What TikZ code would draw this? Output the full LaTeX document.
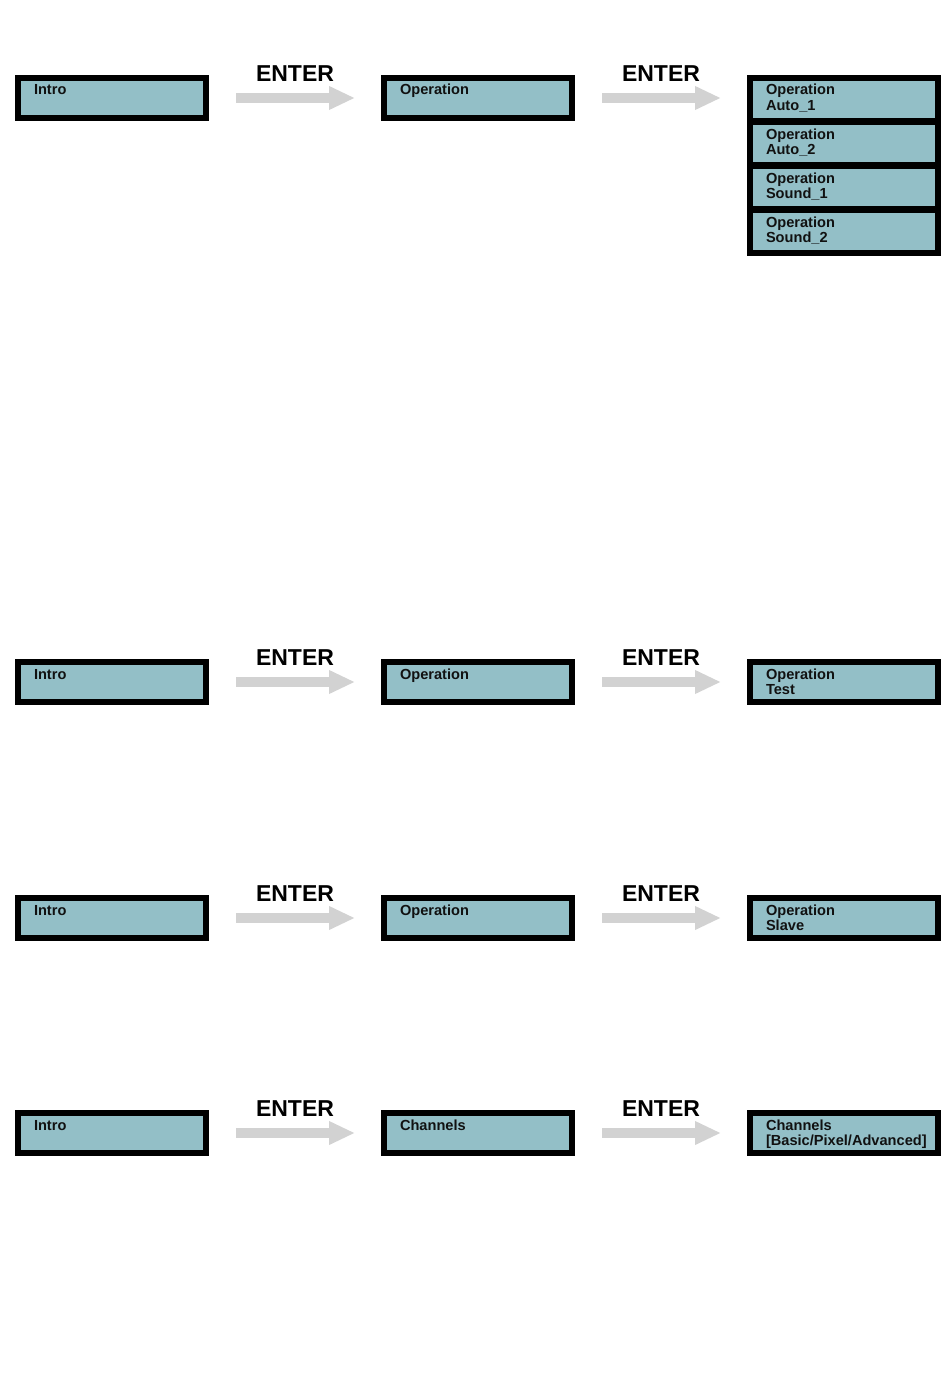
\documentclass[tikz,border=0pt]{standalone}
\usepackage{fontspec}
\setsansfont{Liberation Sans}
\usetikzlibrary{arrows.meta,positioning}
\definecolor{lcdblue}{HTML}{93BFC7}
\definecolor{keygray}{HTML}{D2D2D2}
\definecolor{ink}{HTML}{111111}

\begin{document}
\begin{tikzpicture}[
    x=1pt, y=-1pt,
    font=\sffamily\bfseries,
    screen/.style={
        draw=black,
        fill=lcdblue,
        line width=6pt,
        minimum width=188pt,
        text width=156pt,
        inner xsep=16pt,
        inner ysep=6.5pt,
        align=left,
        text height=10.5pt,
        text depth=16.5pt,
        text=ink,
        font=\sffamily\bfseries\fontsize{14.6}{15.5}\selectfont
    },
    subscreen/.style={screen, text depth=19.5pt},
    enter/.style={-{Triangle[length=26pt,width=22pt]}, line width=10.5pt,
        draw=keygray, shorten <=27pt, shorten >=26pt},
    keylabel/.style={font=\sffamily\bfseries\fontsize{23}{25}\selectfont,
        text=black, yshift=24.5pt}
]
\useasboundingbox (0,0) rectangle (950,1397);

% row 1: operation modes
\node[screen] (intro1) at (112,98) {Intro};
\node[screen, right=172pt of intro1] (op1) {Operation};
\node[subscreen, right=172pt of op1, yshift=-1.5pt] (auto1) {Operation\\Auto\_1};
\node[subscreen, below=-5pt of auto1] (auto2) {Operation\\Auto\_2};
\node[subscreen, below=-5pt of auto2] (sound1) {Operation\\Sound\_1};
\node[subscreen, below=-5pt of sound1] (sound2) {Operation\\Sound\_2};

\draw[enter] (intro1) -- node[keylabel] {ENTER} (op1);
\draw[enter] (op1.east) -- node[keylabel] {ENTER} (auto1.west |- op1.east);

% row 2: test
\node[screen] (intro2) at (112,682) {Intro};
\node[screen, right=172pt of intro2] (op2) {Operation};
\node[screen, right=172pt of op2] (test) {Operation\\Test};

\draw[enter] (intro2) -- node[keylabel] {ENTER} (op2);
\draw[enter] (op2) -- node[keylabel] {ENTER} (test);

% row 3: slave
\node[screen] (intro3) at (112,918) {Intro};
\node[screen, right=172pt of intro3] (op3) {Operation};
\node[screen, right=172pt of op3] (slave) {Operation\\Slave};

\draw[enter] (intro3) -- node[keylabel] {ENTER} (op3);
\draw[enter] (op3) -- node[keylabel] {ENTER} (slave);

% row 4: channel mode
\node[screen] (intro4) at (112,1133) {Intro};
\node[screen, right=172pt of intro4] (chan) {Channels};
\node[screen, right=172pt of chan] (chanmode) {Channels\\{}[Basic/Pixel/Advanced]};

\draw[enter] (intro4) -- node[keylabel] {ENTER} (chan);
\draw[enter] (chan) -- node[keylabel] {ENTER} (chanmode);

\end{tikzpicture}
\end{document}
